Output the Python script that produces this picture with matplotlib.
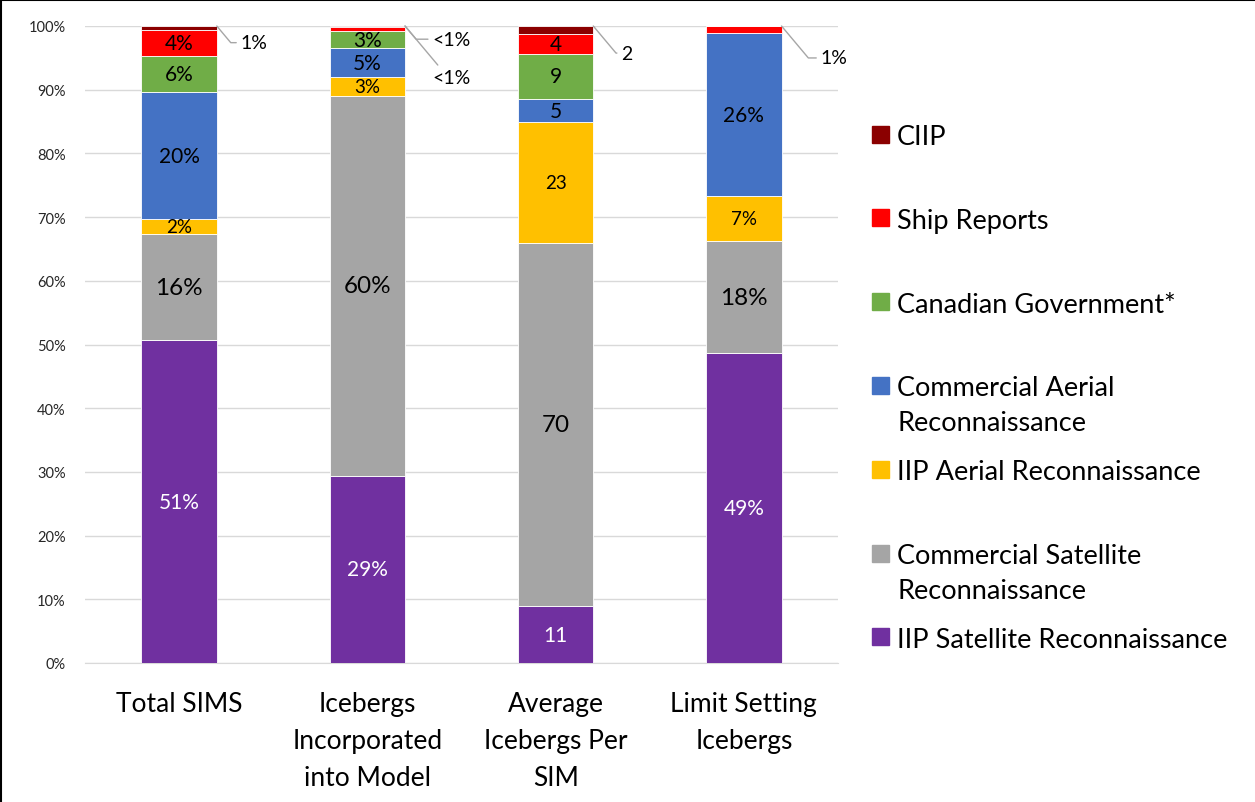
import matplotlib.pyplot as plt
import numpy as np
from matplotlib.patches import Rectangle
from matplotlib.lines import Line2D

plt.rcParams['font.family'] = ['Lato', 'DejaVu Sans']

categories = ['Total SIMS', 'Icebergs\nIncorporated\ninto Model',
              'Average\nIcebergs Per\nSIM', 'Limit Setting\nIcebergs']

# stacked bottom to top
series = ['IIP Satellite Reconnaissance', 'Commercial Satellite\nReconnaissance',
          'IIP Aerial Reconnaissance', 'Commercial Aerial\nReconnaissance',
          'Canadian Government*', 'Ship Reports', 'CIIP']
colors = ['#7030A0', '#A5A5A5', '#FFC000', '#4472C4', '#70AD47', '#FF0000', '#8B0000']

total_sims = [50.7, 16.6, 2.4, 19.9, 5.7, 4.1, 0.6]
icebergs_model = [29.4, 59.6, 3.0, 4.5, 2.7, 0.6, 0.2]
avg_per_sim = [11.0, 70.7, 23.6, 4.5, 8.8, 3.8, 1.6]  # counts, plotted as share
limit_setting = [48.7, 17.5, 7.1, 25.6, 0.0, 1.1, 0.0]

labels_total = ['51%', '16%', '2%', '20%', '6%', '4%', '']
labels_model = ['29%', '60%', '3%', '5%', '3%', '', '']
labels_avg = ['11', '70', '23', '5', '9', '4', '']
labels_limit = ['49%', '18%', '7%', '26%', '', '', '']

# labels placed outside, next to the top of a bar: (bar, text)
outside_labels = [(0, '1%'), (1, '<1%'), (1, '<1%'), (2, '2'), (3, '1%')]
outside_offsets = [(17, -12), (19.5, -9.5), (19.5, -37), (20, -19.5), (28, -23)]

yticks = np.arange(0, 101, 10)

data = np.array([total_sims, icebergs_model, avg_per_sim, limit_setting], dtype=float)
shares = data / data.sum(axis=1, keepdims=True) * 100
bar_labels = [labels_total, labels_model, labels_avg, labels_limit]

label_sizes = [15, 17.5, 13.5, 15, 15, 15, 15]
label_colors = ['white', 'black', 'black', 'black', 'black', 'black', 'black']

fig = plt.figure(figsize=(12.55, 8.03), dpi=100)
ax = fig.add_axes([85 / 1255, 1 - 664 / 803, 753 / 1255, 637 / 803])

x = np.arange(len(categories))
width = 0.4
bottom = np.zeros(len(categories))
for j, name in enumerate(series):
    vals = shares[:, j]
    bars = ax.bar(x, vals, width, bottom=bottom, color=colors[j],
                  edgecolor='white', linewidth=0.6, zorder=3)
    for i in range(len(categories)):
        txt = bar_labels[i][j]
        if txt:
            ax.text(x[i], bottom[i] + vals[i] / 2, txt, ha='center', va='center',
                    fontsize=label_sizes[j], color=label_colors[j], zorder=4)
    bottom += vals

for (i, txt), (dx, dy) in zip(outside_labels, outside_offsets):
    ax.annotate(txt, xy=(x[i] + width / 2, 100), xytext=(dx, dy),
                textcoords='offset points', ha='left', va='center', fontsize=14,
                arrowprops=dict(arrowstyle='-', color='#a6a6a6', lw=1,
                                shrinkA=1, shrinkB=0, relpos=(0, 0.5),
                                connectionstyle='angle,angleA=180,angleB=-50,rad=0'),
                annotation_clip=False, zorder=5)

ax.set_xlim(-0.5, len(categories) - 0.5)
ax.set_ylim(0, 100)
ax.set_yticks(yticks)
ax.set_yticklabels(['%d%%' % t for t in yticks], fontsize=10.5, color='#262626')
ax.set_xticks(x)
ax.set_xticklabels(categories, fontsize=19, linespacing=1.6)
ax.tick_params(axis='both', length=0)
ax.tick_params(axis='x', pad=20)
ax.tick_params(axis='y', pad=14)
ax.grid(axis='y', color='#d9d9d9', lw=1, zorder=0)
for s in ['left', 'right', 'top']:
    ax.spines[s].set_visible(False)
ax.spines['bottom'].set_color('#d9d9d9')

# legend, top entry first; wrapped names continue on the next line
W, H = 1255.0, 803.0
for k, j in enumerate(range(len(series) - 1, -1, -1)):
    yc = 135 + 83.8 * k
    fig.add_artist(Rectangle((872 / W, 1 - (yc + 8.5) / H), 17 / W, 17 / H,
                             transform=fig.transFigure, color=colors[j]))
    for n, line in enumerate(series[j].split('\n')):
        fig.text(897 / W, 1 - (yc + 35 * n) / H, line, ha='left',
                 va='center_baseline', fontsize=19.5)

fig.add_artist(Line2D([0.0008, 0.0008], [0, 1], transform=fig.transFigure, color='black', lw=1.5))
fig.add_artist(Line2D([0, 1], [0.9992, 0.9992], transform=fig.transFigure, color='black', lw=1.5))

fig.savefig('out.png', dpi=100)
